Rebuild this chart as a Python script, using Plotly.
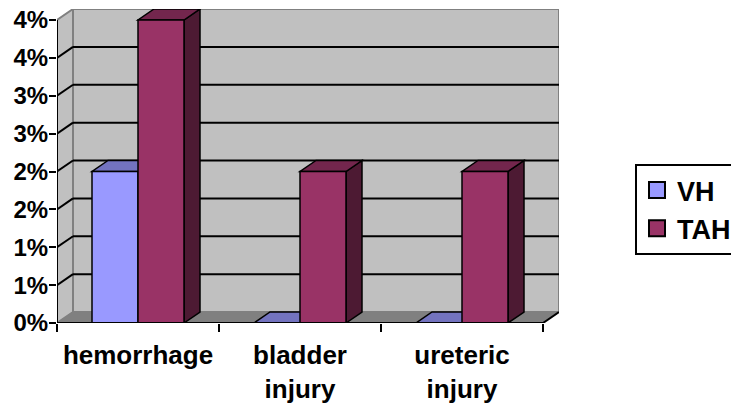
import plotly.graph_objects as go

# ---- data ----
categories = ["hemorrhage", "bladder<br>injury", "ureteric<br>injury"]
series_names = ["VH", "TAH"]
vh_values = [0.02, 0.0, 0.0]
tah_values = [0.04, 0.02, 0.02]
y_tick_values = [0, 0.005, 0.01, 0.015, 0.02, 0.025, 0.03, 0.035, 0.04]
y_tick_labels = ["0%", "1%", "1%", "2%", "2%", "3%", "3%", "4%", "4%"]

# ---- styling / geometry ----
W, H = 731, 408
L, R, T, B = 57, 172, 9, 85
PX_PER_CAT = 162.0
YMAX = 0.04
PX_PER_YMAX = 303.0
DX_PX, DY_PX = 16, 11
DX = DX_PX / PX_PER_CAT
DY = DY_PX / PX_PER_YMAX * YMAX
BAR_W = 46 / PX_PER_CAT
offsets = [-BAR_W, 0.0]

front_colors = ["#9999FF", "#993366"]
top_colors = ["#7373BF", "#73264D"]
side_colors = ["#4D4D80", "#4D1A33"]

FONT = "Liberation Sans, Arial, sans-serif"
xs = list(range(len(categories)))

fig = go.Figure()
for name, vals, off, col in zip(series_names, [vh_values, tah_values], offsets, front_colors):
    fig.add_trace(go.Bar(
        x=xs, y=vals, name=name, width=BAR_W, offset=off,
        marker=dict(color=col, line=dict(color="black", width=1.5)),
        showlegend=False,
    ))
    # legend proxy
    fig.add_trace(go.Scatter(
        x=[None], y=[None], mode="markers", name=name,
        marker=dict(symbol="square", size=17, color=col, line=dict(color="black", width=2)),
    ))

shapes = []
x_lo, x_hi = -0.5, len(categories) - 0.5
# back wall
shapes.append(dict(type="rect", layer="below", x0=x_lo + DX, x1=x_hi + DX, y0=DY, y1=YMAX + DY,
                   fillcolor="#C0C0C0", line=dict(color="#808080", width=2)))
# left wall
shapes.append(dict(type="path", layer="below",
                   path=f"M{x_lo},0 L{x_lo},{YMAX} L{x_lo+DX},{YMAX+DY} L{x_lo+DX},{DY} Z",
                   fillcolor="#C0C0C0", line=dict(color="#808080", width=2)))
# floor
shapes.append(dict(type="path", layer="below",
                   path=f"M{x_lo},0 L{x_hi},0 L{x_hi+DX},{DY} L{x_lo+DX},{DY} Z",
                   fillcolor="#808080", line=dict(color="#808080", width=1)))
shapes.append(dict(type="line", layer="below", x0=x_hi, y0=0, x1=x_hi + DX, y1=DY,
                   line=dict(color="black", width=2)))
# gridlines
for v in y_tick_values[1:-1]:
    shapes.append(dict(type="line", layer="below", x0=x_lo + DX, x1=x_hi + DX, y0=v + DY, y1=v + DY,
                       line=dict(color="black", width=2)))
    shapes.append(dict(type="line", layer="below", x0=x_lo, x1=x_lo + DX, y0=v, y1=v + DY,
                       line=dict(color="black", width=2)))
# 3D bar faces
for vals, off, tc, sc in zip([vh_values, tah_values], offsets, top_colors, side_colors):
    for i, v in zip(xs, vals):
        xl = i + off
        xr = xl + BAR_W
        shapes.append(dict(type="path", layer="below",
                           path=f"M{xr},0 L{xr},{v} L{xr+DX},{v+DY} L{xr+DX},{DY} Z",
                           fillcolor=sc, line=dict(color="black", width=1.5)))
        shapes.append(dict(type="path", layer="below",
                           path=f"M{xl},{v} L{xr},{v} L{xr+DX},{v+DY} L{xl+DX},{v+DY} Z",
                           fillcolor=tc, line=dict(color="black", width=1.5)))
# front axes
shapes.append(dict(type="line", layer="above", x0=x_lo, x1=x_hi, y0=0, y1=0,
                   line=dict(color="black", width=2)))
shapes.append(dict(type="line", layer="above", x0=x_lo, x1=x_lo, y0=0, y1=YMAX,
                   line=dict(color="black", width=2)))

fig.update_layout(
    width=W, height=H,
    margin=dict(l=L, r=R, t=T, b=B, autoexpand=False),
    paper_bgcolor="white", plot_bgcolor="white",
    barmode="overlay",
    shapes=shapes,
    font=dict(family=FONT, color="black", size=22, weight="bold"),
    xaxis=dict(range=[x_lo, x_hi + DX], tickvals=xs, ticktext=categories,
               ticks="", showgrid=False, zeroline=False, showline=False,
               tickfont=dict(size=26, family=FONT, weight="bold"),
               ticklabelstandoff=14,
               minor=dict(tickvals=[x_lo + k for k in range(len(categories) + 1)], ticks="outside",
                          ticklen=8, tickwidth=2, tickcolor="black", showgrid=False)),
    yaxis=dict(range=[0, YMAX + DY], tickvals=y_tick_values, ticktext=y_tick_labels,
               ticks="outside", ticklen=7, tickwidth=2, tickcolor="black",
               showgrid=False, zeroline=False, showline=False,
               ticklabelstandoff=-4,
               tickfont=dict(size=24, family=FONT, weight="bold")),
    legend=dict(x=(635 - L) / (W - L - R), xanchor="left",
                y=(323 - 164) / (H - T - B), yanchor="top",
                bordercolor="black", borderwidth=2, bgcolor="white",
                font=dict(size=27, family=FONT, weight="bold"),
                itemwidth=30, tracegroupgap=0),
)

fig.write_html("out.html")
